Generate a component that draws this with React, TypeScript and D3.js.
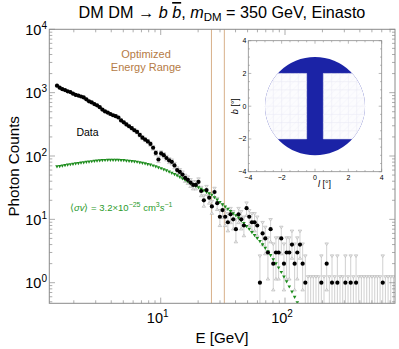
import React from "react";
import * as d3 from "d3";

// log-spaced energy bins: centre of first bin (log10 GeV) and step in dex
const LOG_E0 = 0.1657;
const LOG_STEP = 0.02148;

// observed photon counts per bin
const counts = [
  1290, 1200, 1135, 1100, 1050, 1020, 965, 920, 900, 870,
  840, 785, 730, 700, 660, 630, 590, 540, 505, 485,
  460, 440, 425, 405, 365, 340, 315, 295, 275, 255,
  240, 215, 195, 182, 170, 155, 135, 112, 88, 110,
  103, 93, 85, 81, 71, 60, 56, 51, 45, 42,
  38, 35, 35, 39, 28, 20, 29, 22, 16, 27,
  18, 11, 14, 11, 9, 12, 10, 7, 12, 10,
  8, 15, 11, 9, 9, 8, 1, 6, 5, 3,
  7, 2, 3, 3, 5, 2, 3, 3, 4, 2,
  3, 4, 2, 1, 0, 0, 0, 0, 0, 1,
  0, 2, 0, 1, 0, 1, 0, 0, 1, 0,
  1, 0, 1, 0, 0, 0, 0, 0, 0, 0,
  0, 0, 1, 0, 0, 0, 0,
];

// DM signal model counts (same bins)
const model = [
  67.6, 68.7, 69.8, 71.0, 72.1, 73.3, 74.5, 75.5, 76.6, 77.6,
  78.7, 79.8, 80.9, 81.8, 82.8, 83.6, 84.3, 84.9, 85.5, 85.9,
  86.1, 86.1, 85.9, 85.7, 85.3, 84.9, 83.9, 83.0, 82.0, 81.1,
  80.2, 78.7, 77.1, 75.5, 73.8, 72.1, 70.0, 67.8, 65.6, 63.4,
  61.0, 58.5, 56.0, 53.6, 51.2, 48.8, 46.2, 43.8, 41.4, 39.2,
  37.0, 35.2, 33.3, 31.6, 29.9, 28.3, 26.9, 25.4, 24.0, 22.1,
  20.3, 18.6, 17.1, 15.7, 14.5, 13.3, 12.3, 11.4, 10.5, 9.55,
  8.61, 7.76, 7.0, 6.24, 5.56, 5.01, 4.47, 3.98, 3.51, 3.09,
  2.69, 2.32, 2.0, 1.72, 1.46, 1.23, 1.035, 0.861, 0.716, 0.589,
  0.484,
];

// 68% Feldman-Cousins intervals for small counts (n = 0..10)
const fcIntervals: [number, number][] = [
  [0, 1.29], [0.37, 2.75], [0.74, 4.25], [1.1, 5.3], [2.34, 6.78],
  [2.75, 7.81], [3.82, 9.28], [4.25, 10.3], [5.3, 11.32], [6.33, 12.79],
  [6.78, 13.81],
];

const rangeLines = [25.6, 32.5]; // GeV
const xLabelTicks = [10, 100];
const yLabelTicks = [1, 10, 100, 1000, 10000];
const insetTicks = [-4, -2, 0, 2, 4];

const FONT = "'Liberation Sans', Arial, sans-serif";
const FRAME = "#8a8a8a";

const interval = (n: number): [number, number] =>
  n <= 10 ? fcIntervals[n] : [n - Math.sqrt(n), n + Math.sqrt(n)];

const Inset = () => {
  const ix = d3.scaleLinear().domain([-4, 4]).range([248.3, 381.7]);
  const iy = d3.scaleLinear().domain([-4, 4]).range([171.7, 40.7]);
  const minor = d3.range(-4, 4.01, 0.5);
  const grid = d3.range(-3, 3.01, 0.5);
  const rx = ix(3) - ix(0);
  const ry = iy(0) - iy(3);
  return (
    <g>
      <defs>
        <clipPath id="roi">
          <ellipse cx={ix(0)} cy={iy(0)} rx={rx} ry={ry} />
        </clipPath>
        <pattern id="hatch" width="5" height="5" patternUnits="userSpaceOnUse" patternTransform="rotate(45)">
          <line x1="0" y1="0" x2="0" y2="5" stroke="#ededf7" strokeWidth="0.6" />
        </pattern>
      </defs>
      <rect x={ix(-4)} y={iy(4)} width={ix(4) - ix(-4)} height={iy(-4) - iy(4)} fill="#fff" />
      <ellipse cx={ix(0)} cy={iy(0)} rx={rx} ry={ry} fill="#1b23a6" />
      <g clipPath="url(#roi)">
        {[[-4, -0.5], [0.5, 4]].map(([a, b], k) => (
          <g key={k}>
            <rect x={ix(a)} y={iy(2)} width={ix(b) - ix(a)} height={iy(-2) - iy(2)} fill="#fcfcfe" />
            <rect x={ix(a)} y={iy(2)} width={ix(b) - ix(a)} height={iy(-2) - iy(2)} fill="url(#hatch)" />
          </g>
        ))}
        {grid.filter((g) => Math.abs(g) >= 0.5).map((g) => (
          <line key={"v" + g} x1={ix(g)} x2={ix(g)} y1={iy(2)} y2={iy(-2)} stroke="#e8e8f5" strokeWidth={0.5} />
        ))}
        {grid.filter((g) => Math.abs(g) <= 2).map((g) => (
          <g key={"h" + g}>
            <line x1={ix(-3)} x2={ix(-0.5)} y1={iy(g)} y2={iy(g)} stroke="#e8e8f5" strokeWidth={0.5} />
            <line x1={ix(0.5)} x2={ix(3)} y1={iy(g)} y2={iy(g)} stroke="#e8e8f5" strokeWidth={0.5} />
          </g>
        ))}
      </g>
      {minor.map((t) => {
        const len = insetTicks.includes(t) ? 3 : 1.6;
        return (
          <g key={"t" + t} stroke={FRAME} strokeWidth={0.6}>
            <line x1={ix(t)} x2={ix(t)} y1={iy(-4)} y2={iy(-4) - len} />
            <line x1={ix(t)} x2={ix(t)} y1={iy(4)} y2={iy(4) + len} />
            <line x1={ix(-4)} x2={ix(-4) + len} y1={iy(t)} y2={iy(t)} />
            <line x1={ix(4)} x2={ix(4) - len} y1={iy(t)} y2={iy(t)} />
          </g>
        );
      })}
      <rect x={ix(-4)} y={iy(4)} width={ix(4) - ix(-4)} height={iy(-4) - iy(4)} fill="none" stroke={FRAME} strokeWidth={0.8} />
      {insetTicks.map((t) => (
        <g key={"l" + t} fontSize={7} fontFamily={FONT}>
          <text x={ix(t)} y={iy(-4) + 8.5} textAnchor="middle">{t < 0 ? "\u2212" + -t : t}</text>
          <text x={ix(-4) - 2} y={iy(t) + 2.5} textAnchor="end">{t < 0 ? "\u2212" + -t : t}</text>
        </g>
      ))}
      <text x={ix(0) + 3} y={iy(-4) + 15.5} fontSize={9} fontFamily={FONT}>
        <tspan fontStyle="italic">l</tspan>{" [\u00b0]"}
      </text>
      <text transform={`translate(${ix(-4) - 10},${iy(0)}) rotate(-90)`} textAnchor="middle" fontSize={9} fontFamily={FONT}>
        <tspan fontStyle="italic">b</tspan>{" [\u00b0]"}
      </text>
    </g>
  );
};

export default function App() {
  const W = 399;
  const H = 349;
  const x = d3.scaleLog().domain([1.27, 767]).range([49.3, 395]);
  const y = d3.scaleLog().domain([0.473, 10000]).range([303.3, 29.3]);
  const [x0, x1] = x.range();
  const [yb, yt] = y.range();

  const energy = counts.map((_, i) => Math.pow(10, LOG_E0 + i * LOG_STEP));
  const isMajor = (v: number) => Math.abs(Math.log10(v) - Math.round(Math.log10(v))) < 1e-6;
  const xTicks = x.ticks();
  const yTicks = y.ticks();

  return (
    <svg width={W} height={H} style={{ position: "fixed", left: 0, top: 0, background: "#fff" }} fontFamily={FONT}>
      <defs>
        <clipPath id="plot">
          <rect x={x0} y={yt} width={x1 - x0} height={yb - yt} />
        </clipPath>
      </defs>

      <text x={222} y={18} textAnchor="middle" fontSize={16.2}>
        {"DM DM \u2192 "}
        <tspan fontStyle="italic">b</tspan>
        {" "}
        <tspan fontStyle="italic" style={{ textDecoration: "overline" }}>b</tspan>
        {", "}
        <tspan fontStyle="italic">m</tspan>
        <tspan fontSize={11.5} dy={3}>DM</tspan>
        <tspan dy={-3}>{" = 350 GeV, Einasto"}</tspan>
      </text>

      {/* energy range markers */}
      {rangeLines.map((e) => (
        <line key={e} x1={x(e)} x2={x(e)} y1={yt} y2={yb} stroke="#d8b08a" strokeWidth={1} />
      ))}

      <g clipPath="url(#plot)">
        {/* error bars */}
        {counts.map((n, i) => {
          const [lo, hi] = interval(n);
          const cx = x(energy[i]);
          const yU = y(hi);
          const yL = lo > 0 ? y(lo) : yb + 20;
          return (
            <g key={"e" + i}>
              <line x1={cx} x2={cx} y1={yU} y2={yL} stroke="#c4c4c4" strokeWidth={0.8} />
              <path d={`M${cx - 1.8},${yU}L${cx + 1.8},${yU}L${cx},${yU + 2.6}Z`} fill="#ececec" stroke="#a9a9a9" strokeWidth={0.5} />
              <path d={`M${cx - 1.8},${yL}L${cx + 1.8},${yL}L${cx},${yL - 2.6}Z`} fill="#ececec" stroke="#a9a9a9" strokeWidth={0.5} />
            </g>
          );
        })}
        {/* model */}
        {model.map((m, i) => {
          const cx = x(energy[i]);
          const cy = y(m);
          return <path key={"m" + i} d={`M${cx - 1.8},${cy - 1.4}L${cx + 1.8},${cy - 1.4}L${cx},${cy + 1.8}Z`} fill="#1c8c1c" />;
        })}
        {/* data points */}
        {counts.map((n, i) =>
          n > 0 ? <circle key={"d" + i} cx={x(energy[i])} cy={y(n)} r={2.1} fill="#000" /> : null
        )}
      </g>

      {/* frame ticks */}
      {xTicks.map((t) => {
        const len = isMajor(t) ? 5.7 : 3;
        return (
          <g key={"xt" + t} stroke={FRAME} strokeWidth={0.7}>
            <line x1={x(t)} x2={x(t)} y1={yb} y2={yb - len} />
            <line x1={x(t)} x2={x(t)} y1={yt} y2={yt + len} />
          </g>
        );
      })}
      {yTicks.map((t) => {
        const len = isMajor(t) ? 5.7 : 3;
        return (
          <g key={"yt" + t} stroke={FRAME} strokeWidth={0.7}>
            <line x1={x0} x2={x0 + len} y1={y(t)} y2={y(t)} />
            <line x1={x1} x2={x1 - len} y1={y(t)} y2={y(t)} />
          </g>
        );
      })}
      <rect x={x0} y={yt} width={x1 - x0} height={yb - yt} fill="none" stroke={FRAME} strokeWidth={1} />

      {xLabelTicks.map((t) => (
        <text key={"xl" + t} x={x(t) - 3} y={323} textAnchor="middle" fontSize={14.5}>
          10<tspan fontSize={10} dy={-6}>{Math.round(Math.log10(t))}</tspan>
        </text>
      ))}
      {yLabelTicks.map((t) => (
        <text key={"yl" + t} x={47} y={y(t) + 5.5} textAnchor="end" fontSize={14.5}>
          10<tspan fontSize={10} dy={-6}>{Math.round(Math.log10(t))}</tspan>
        </text>
      ))}

      <text x={222} y={343} textAnchor="middle" fontSize={15.2}>E [GeV]</text>
      <text transform={`translate(19,${(yt + yb) / 2}) rotate(-90)`} textAnchor="middle" fontSize={15.2}>Photon Counts</text>

      <text x={146} y={58} textAnchor="middle" fontSize={11} fill="#b57b45">Optimized</text>
      <text x={146} y={71} textAnchor="middle" fontSize={11} fill="#b57b45">Energy Range</text>
      <text x={87.5} y={136} textAnchor="middle" fontSize={10.5}>Data</text>

      <text x={70} y={210.5} fontSize={9.5} fill="#2b9a2b">
        {"\u27e8"}
        <tspan fontStyle="italic">{"\u03c3v"}</tspan>
        {"\u27e9 = 3.2\u00d710"}
        <tspan fontSize={7} dy={-4}>{"\u221225"}</tspan>
        <tspan dy={4}>{" cm"}</tspan>
        <tspan fontSize={7} dy={-4}>3</tspan>
        <tspan dy={4} fontStyle="italic">s</tspan>
        <tspan fontSize={7} dy={-4}>{"\u22121"}</tspan>
      </text>

      <Inset />
    </svg>
  );
}
